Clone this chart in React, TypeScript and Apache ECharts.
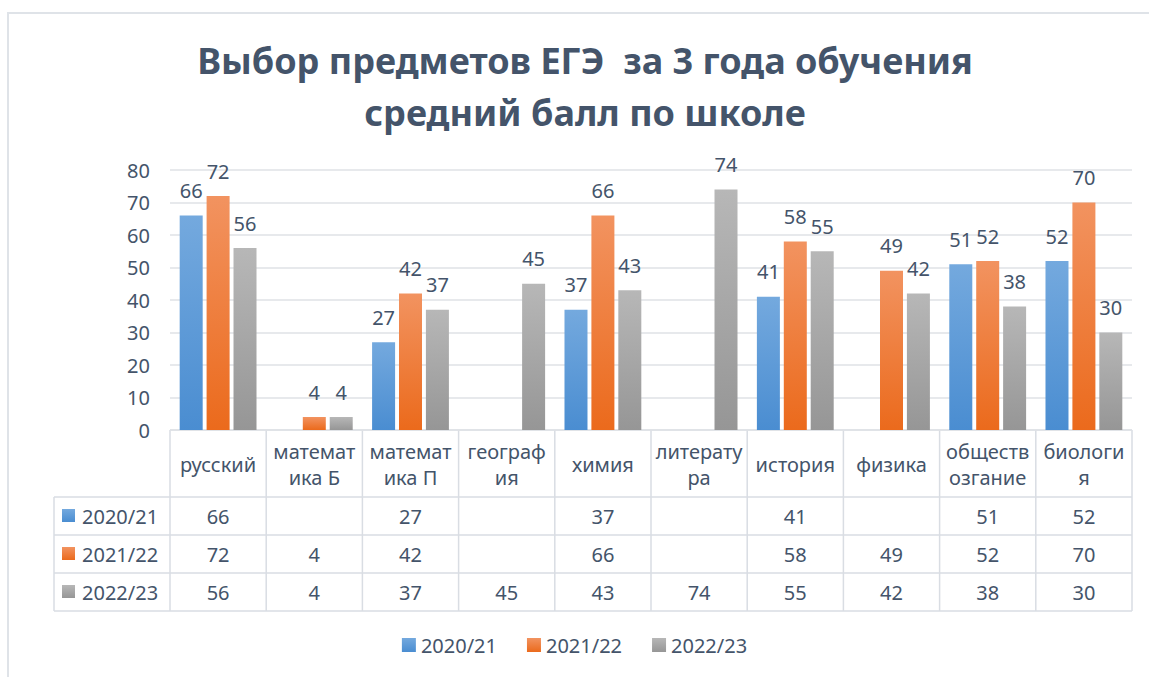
import React, { useEffect, useRef } from 'react';
import * as echarts from 'echarts';

const categories = [
  'русский',
  'математ\nика Б',
  'математ\nика П',
  'географ\nия',
  'химия',
  'литерату\nра',
  'история',
  'физика',
  'обществ\nозгание',
  'биологи\nя',
];
const seriesNames = ['2020/21', '2021/22', '2022/23'];
const values2020: (number | null)[] = [66, null, 27, null, 37, null, 41, null, 51, 52];
const values2021: (number | null)[] = [72, 4, 42, null, 66, null, 58, 49, 52, 70];
const values2022: (number | null)[] = [56, 4, 37, 45, 43, 74, 55, 42, 38, 30];
const yMin = 0;
const yMax = 80;
const yInterval = 10;
const titleText = 'Выбор предметов ЕГЭ  за 3 года обучения\nсредний балл по школе';

const FONT = '"Noto Sans", "Open Sans", sans-serif';
const TEXT = '#44546a';
const BORDER = '#d9dde3';
const FS = 20;

const grad = (top: string, bottom: string) =>
  new echarts.graphic.LinearGradient(0, 0, 0, 1, [
    { offset: 0, color: top },
    { offset: 1, color: bottom },
  ]);
const colorsTop = ['#74a9de', '#f29360', '#b7b7b7'];
const colorsBottom = ['#4a8dd1', '#eb6a1c', '#969696'];

// layout
const GL = 170;
const GR = 1132;
const GT = 170;
const GB = 430;
const TL = 54;
const rowLines = [497, 535, 573, 611];

export default function App() {
  const ref = useRef<HTMLDivElement>(null);
  useEffect(() => {
    if (!ref.current) return;
    const chart = echarts.init(ref.current, undefined, { renderer: 'svg' });
    const allValues = [values2020, values2021, values2022];
    const n = categories.length;
    const cw = (GR - GL) / n;
    const graphics: any[] = [];
    graphics.push({
      type: 'rect',
      shape: { x: 8, y: 13, width: 1200, height: 700 },
      style: { fill: 'none', stroke: '#dfe3e8', lineWidth: 2 },
      silent: true,
    });
    graphics.push({
      type: 'line',
      shape: { x1: GL, y1: GB, x2: GR, y2: GB },
      style: { stroke: BORDER, lineWidth: 1.5 },
    });
    rowLines.forEach((y) => {
      graphics.push({
        type: 'line',
        shape: { x1: TL, y1: y, x2: GR, y2: y },
        style: { stroke: BORDER, lineWidth: 1.5 },
      });
    });
    graphics.push({
      type: 'line',
      shape: { x1: TL, y1: rowLines[0], x2: TL, y2: rowLines[3] },
      style: { stroke: BORDER, lineWidth: 1.5 },
    });
    for (let i = 0; i <= n; i++) {
      const x = GL + i * cw;
      graphics.push({
        type: 'line',
        shape: { x1: x, y1: GB, x2: x, y2: rowLines[3] },
        style: { stroke: BORDER, lineWidth: 1.5 },
      });
    }
    seriesNames.forEach((name, r) => {
      const cy = (rowLines[r] + rowLines[r + 1]) / 2;
      graphics.push({
        type: 'rect',
        shape: { x: 62, y: cy - 7, width: 13, height: 13 },
        style: { fill: grad(colorsTop[r], colorsBottom[r]) },
      });
      graphics.push({
        type: 'text',
        x: 82,
        y: cy,
        style: { text: name, fill: TEXT, font: `${FS}px ${FONT}`, verticalAlign: 'middle', align: 'left' },
      });
      allValues[r].forEach((v, i) => {
        if (v == null) return;
        graphics.push({
          type: 'text',
          x: GL + (i + 0.5) * cw,
          y: cy,
          style: { text: String(v), fill: TEXT, font: `${FS}px ${FONT}`, verticalAlign: 'middle', align: 'center' },
        });
      });
    });

    const mkSeries = (name: string, data: (number | null)[], idx: number) => ({
      name,
      type: 'bar',
      data,
      barWidth: 23,
      barGap: '17%',
      itemStyle: { color: grad(colorsTop[idx], colorsBottom[idx]) },
      label: {
        show: true,
        position: 'top',
        distance: 15,
        color: TEXT,
        fontSize: FS,
        fontFamily: FONT,
      },
    });

    chart.setOption({
      animation: false,
      backgroundColor: '#ffffff',
      title: {
        text: titleText,
        left: 585,
        top: 34,
        padding: 0,
        textAlign: 'center',
        textStyle: {
          color: TEXT,
          fontSize: 36,
          fontWeight: 'bold',
          fontFamily: FONT,
          lineHeight: 52,
        },
      },
      legend: {
        data: seriesNames,
        top: 630,
        left: 'center',
        icon: 'rect',
        itemWidth: 14,
        itemHeight: 14,
        itemGap: 30,
        textStyle: { color: TEXT, fontSize: FS, fontFamily: FONT },
      },
      grid: { left: GL, right: 1149 - GR, top: GT, bottom: 677 - GB, containLabel: false },
      xAxis: {
        type: 'category',
        data: categories,
        axisLine: { show: false },
        axisTick: { show: false },
        axisLabel: {
          interval: 0,
          margin: 34,
          verticalAlign: 'middle',
          lineHeight: 26,
          color: TEXT,
          fontSize: FS,
          fontFamily: FONT,
        },
      },
      yAxis: {
        type: 'value',
        min: yMin,
        max: yMax,
        interval: yInterval,
        axisLine: { show: false },
        axisTick: { show: false },
        axisLabel: { margin: 20, color: TEXT, fontSize: FS, fontFamily: FONT },
        splitLine: { lineStyle: { color: '#dfe2e6', width: 1.5 } },
      },
      graphic: graphics,
      series: [
        mkSeries(seriesNames[0], values2020, 0),
        mkSeries(seriesNames[1], values2021, 1),
        mkSeries(seriesNames[2], values2022, 2),
      ],
    });
    return () => chart.dispose();
  }, []);
  return (
    <div
      ref={ref}
      style={{ position: 'fixed', left: 0, top: 0, width: 1149, height: 677 }}
    />
  );
}
